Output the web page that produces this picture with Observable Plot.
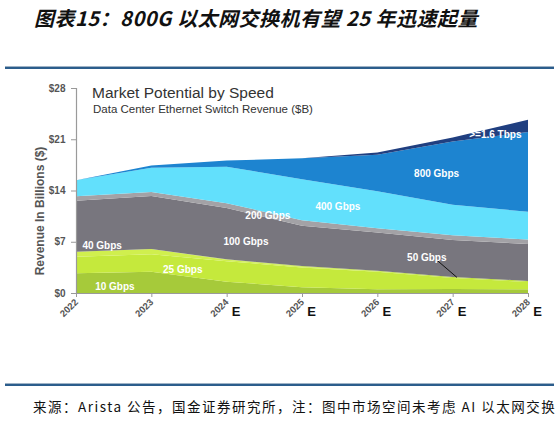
<!DOCTYPE html>
<html>
<head>
<meta charset="utf-8">
<script src="https://cdn.jsdelivr.net/npm/d3@7"></script>
<script src="https://cdn.jsdelivr.net/npm/@observablehq/plot@0.6"></script>
<style>
  html, body { margin: 0; padding: 0; background: #fff; }
  #wrap { position: relative; width: 559px; height: 426px; overflow: hidden; }
  #title { position: absolute; left: 34px; top: 3px; font-family: "Noto Sans CJK SC", sans-serif; font-weight: bold; font-style: italic; font-size: 20px; letter-spacing: 0.5px; color: #111; white-space: nowrap; }
  .hr { position: absolute; left: 5px; width: 549px; height: 2px; background: #2b5d8c; border-top: 1px solid #9fb3c6; }
  #note { position: absolute; left: 33px; top: 396px; font-family: "Noto Sans CJK SC", sans-serif; font-size: 13.5px; letter-spacing: 1.5px; color: #111; white-space: nowrap; }
  #ctitle { position: absolute; left: 92px; top: 84px; font-family: "Liberation Sans", Arial, sans-serif; font-size: 15.5px; color: #333; white-space: nowrap; }
  #csub { position: absolute; left: 93px; top: 103px; font-family: "Liberation Sans", Arial, sans-serif; font-size: 11.5px; color: #333; white-space: nowrap; }
  #chart { position: absolute; left: 0; top: 0; }
</style>
</head>
<body>
<div id="wrap">
  <div id="chart"></div>
  <div id="title">图表15：800G 以太网交换机有望 25 年迅速起量</div>
  <div class="hr" style="top:66px"></div>
  <div id="ctitle">Market Potential by Speed</div>
  <div id="csub">Data Center Ethernet Switch Revenue ($B)</div>
  <div class="hr" style="top:383px"></div>
  <div id="note">来源：Arista 公告，国金证券研究所，注：图中市场空间未考虑 AI 以太网交换</div>
</div>
<script>
// ---- data (revenue, $B) ----
const years = [2022, 2023, 2024, 2025, 2026, 2027, 2028];
const forecastYears = [2024, 2025, 2026, 2027, 2028];
const speeds = ["10 Gbps", "25 Gbps", "40 Gbps", "50 Gbps", "100 Gbps", "200 Gbps", "400 Gbps", "800 Gbps", ">=1.6 Tbps"];
const g10   = [2.7, 2.9, 1.55, 0.8, 0.5, 0.55, 0.5];
const g25   = [2.25, 2.4, 2.8, 2.7, 2.4, 1.5, 1.0];
const g40   = [0.7, 0.7, 0.2, 0.1, 0.05, 0, 0];
const g50   = [0, 0, 0.05, 0.1, 0.1, 0.15, 0.15];
const g100  = [6.95, 7.25, 7.0, 5.5, 5.2, 5.05, 5.05];
const g200  = [0.6, 0.55, 0.65, 0.75, 0.6, 0.65, 0.6];
const g400  = [2.2, 3.3, 5.0, 5.6, 5.05, 4.15, 3.8];
const g800  = [0, 0.3, 0.85, 2.85, 5.0, 8.65, 10.9];
const g1600 = [0, 0, 0, 0, 0.3, 0.55, 1.65];
const series = [g10, g25, g40, g50, g100, g200, g400, g800, g1600];
const colors = ["#a6ca3a", "#c5e93c", "#d0ef4e", "#bfe23c", "#78767e", "#a3a2a6", "#62e0fc", "#1d84d0", "#203f80"];
const yTicks = [0, 7, 14, 21, 28];

// label placements (data coordinates)
const labels = [
  {t: "10 Gbps", x: 2022.51, y: 0.86},
  {t: "25 Gbps", x: 2023.41, y: 3.28},
  {t: "40 Gbps", x: 2022.34, y: 6.56},
  {t: "100 Gbps", x: 2024.25, y: 7.1},
  {t: "200 Gbps", x: 2024.54, y: 10.66},
  {t: "400 Gbps", x: 2025.47, y: 11.79},
  {t: "800 Gbps", x: 2026.78, y: 16.35},
  {t: ">=1.6 Tbps", x: 2027.56, y: 21.68},
  {t: "50 Gbps", x: 2026.65, y: 4.82}
];
const arrow = [{x1: 2026.79, y1: 4.5, x2: 2027.05, y2: 2.2}];

const rows = [];
speeds.forEach((s, i) => years.forEach((yr, j) => rows.push({speed: s, year: yr, value: series[i][j]})));

const chart = Plot.plot({
  width: 559,
  height: 426,
  marginLeft: 76,
  marginRight: 31,
  marginTop: 88,
  marginBottom: 133,
  style: {fontFamily: "'Liberation Sans', Arial, sans-serif", background: "transparent", overflow: "visible"},
  x: {domain: [2022, 2028]},
  y: {domain: [0, 28]},
  color: {domain: speeds, range: colors},
  marks: [
    Plot.areaY(rows, {x: "year", y: "value", z: "speed", fill: "speed", order: null, curve: "linear"}),
    Plot.ruleY([0], {stroke: "#9a9a9a", strokeWidth: 1.2}),
    Plot.ruleX([2022], {stroke: "#9a9a9a", strokeWidth: 1.2}),
    Plot.axisY({ticks: yTicks, tickFormat: d => "$" + d, tickSize: 5, tickPadding: 6, fontSize: 10, fontWeight: "bold", fill: "#555", stroke: "#999", label: null}),
    Plot.axisX({ticks: years, tickFormat: d => String(d), tickRotate: -45, tickSize: 4, tickPadding: 3, fontSize: 9.5, fontWeight: "bold", fill: "#555", stroke: "#999", label: null}),
    Plot.text(forecastYears, {x: d => d, y: 0, text: () => "E", dx: 9, dy: 18, fontSize: 13, fontWeight: "bold", fill: "#111"}),
    Plot.text(["Revenue In Billions ($)"], {frameAnchor: "left", textAnchor: "middle", dx: -36, dy: 20, rotate: -90, fontSize: 12, fontWeight: "bold", fill: "#555"}),
    Plot.link(arrow, {x1: "x1", y1: "y1", x2: "x2", y2: "y2", stroke: "#111", strokeWidth: 1}),
    Plot.text(labels, {x: "x", y: "y", text: "t", fill: "#fff", fontSize: 10, fontWeight: "bold"})
  ]
});
document.getElementById("chart").appendChild(chart);
</script>
</body>
</html>
